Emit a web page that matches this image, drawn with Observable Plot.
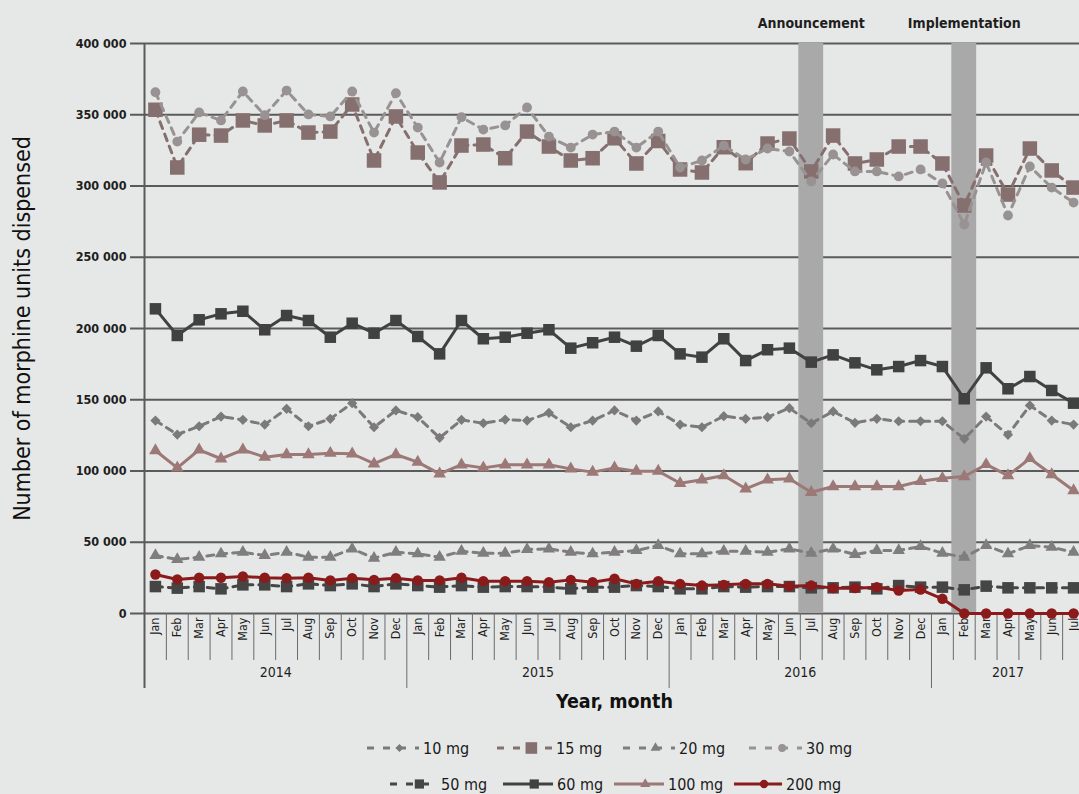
<!DOCTYPE html>
<html>
<head>
<meta charset="utf-8">
<script src="https://cdn.jsdelivr.net/npm/d3@7"></script>
<script src="https://cdn.jsdelivr.net/npm/@observablehq/plot@0.6"></script>
<style>
html, body { margin: 0; padding: 0; background: #e6e8e7; overflow: hidden; width: 1079px; height: 794px; }
#chart { position: absolute; left: 0; top: 0; }
#legend { position: absolute; left: 0; top: 0; width: 1079px; height: 794px; pointer-events: none;
  font-family: "Liberation Sans Narrow", "DejaVu Sans Condensed", "Roboto", sans-serif; font-size: 16px; color: #1a1a1a; }
.lg-item { position: absolute; display: flex; align-items: center; white-space: nowrap; }
.lg-item svg { display: block; }
</style>
</head>
<body>
<div id="chart"></div>
<div id="legend"></div>
<script>
// ---------- data ----------
const monthNames = ["Jan","Feb","Mar","Apr","May","Jun","Jul","Aug","Sep","Oct","Nov","Dec"];
const years = [2014, 2015, 2016, 2017];
const monthsPerYear = [12, 12, 12, 7];
const tickValues = [0, 50000, 100000, 150000, 200000, 250000, 300000, 350000, 400000];
const events = [
  {label: "Announcement", year: 2016, month: "Jul"},
  {label: "Implementation", year: 2017, month: "Feb"}
];
const seriesNames = ["10 mg","15 mg","20 mg","30 mg","50 mg","60 mg","100 mg","200 mg"];
const yTitle = "Number of morphine units dispensed";
const xTitle = "Year, month";

const s10 = [135400,125600,131400,138200,135900,132600,143600,131400,136600,147600,130700,142500,
  137800,123300,135900,133500,136100,135400,140800,130700,135400,142500,135400,141800,
  132600,130700,138500,136600,137800,144100,133500,141800,133800,136600,134900,134900,
  134900,122600,138200,125400,146000,135400,132600];
const s15 = [353500,313000,336000,335400,346000,342500,346000,337500,338200,357200,317900,348800,
  323500,302500,328400,329100,319500,338200,327700,317900,319500,333500,315800,331600,
  311600,309500,327200,316000,329800,333300,310200,335400,315800,318600,327700,327700,
  315800,286300,321400,294000,326300,310900,298900];
const s20 = [40700,37900,39500,41900,43000,40700,43000,39500,39500,45400,38800,43000,
  41900,39500,43700,42300,42300,44900,45400,43000,41900,43000,44200,47700,
  41900,41900,43700,43700,43000,45400,42300,45400,41400,44200,44200,47000,
  42300,39500,47700,41900,47700,46500,43000];
const s30 = [365800,331200,351600,346000,366300,349700,367000,350200,348800,366300,337500,365100,
  341000,316500,348300,339600,342500,355100,334700,327000,336100,338200,327000,338200,
  313000,317900,328400,318600,326300,324200,303200,322100,310200,310200,306700,311600,
  301800,273000,316500,279300,313700,298900,288400];
const s50 = [18900,17800,18900,17300,20100,20100,18900,20800,19600,20800,18900,20800,
  19600,18500,19600,18500,18900,18900,18500,17300,18500,18500,19600,18900,
  17300,17300,18900,18500,18900,18900,18000,18000,18500,17300,19600,18500,
  18500,16600,19200,18000,18000,18000,18000];
const s60 = [213800,195100,206100,210300,212100,199100,209100,205600,193900,203700,196700,205600,
  194400,182200,205600,192800,193900,196700,199100,186200,190000,193900,187600,195100,
  182200,179900,192800,177500,185100,186200,176400,181500,175900,171000,173300,177500,
  173300,150700,172400,157700,166300,156500,147600];
const s100 = [114400,102200,114900,108600,114900,109700,111600,111600,112500,112100,105100,111600,
  106200,98000,104400,102200,104400,104400,104400,101500,99200,102200,99900,99900,
  91400,93800,96800,87500,93800,94500,85100,89100,89100,89100,89100,92800,
  94900,96100,104600,96800,108800,97500,86300];
const s200 = [27400,23900,25100,25100,26000,25100,24800,25100,23200,24800,23600,24800,
  23200,23200,25100,22700,22700,22700,22000,23600,22000,24400,20800,22700,
  20800,19600,20100,20800,20800,19200,19600,17800,17800,18500,16100,16800,
  10300,0,0,0,0,0,0];

// ---------- derived tables ----------
const months = years.flatMap((y, k) => monthNames.slice(0, monthsPerYear[k]).map(m => ({year: y, name: m})));
months.forEach((d, i) => d.i = i);
const idxOf = (year, name) => months.findIndex(d => d.year === year && d.name === name);
const boundaries = months.map(d => ({x: d.i - 0.5, yearStart: d.name === "Jan"}));
const yearSpans = years.map(y => {
  const ms = months.filter(d => d.year === y);
  return {year: y, mid: (ms[0].i + ms[ms.length - 1].i) / 2};
});

const styles = {
  "10 mg":  {values: s10,  color: "#7b797a", dash: "7,6", symbol: "diamond2", r: 4.6},
  "15 mg":  {values: s15,  color: "#86706f", dash: "7,6", symbol: "square",   r: 8.2},
  "20 mg":  {values: s20,  color: "#7f7d7e", dash: "7,6", symbol: "triangle", r: 4.6},
  "30 mg":  {values: s30,  color: "#989292", dash: "7,6", symbol: "circle",   r: 4.9},
  "50 mg":  {values: s50,  color: "#454545", dash: "7,6", symbol: "square",   r: 6.5},
  "60 mg":  {values: s60,  color: "#414141", dash: null,  symbol: "square",   r: 6.5},
  "100 mg": {values: s100, color: "#9c7977", dash: null,  symbol: "triangle", r: 4.7},
  "200 mg": {values: s200, color: "#8b1a1b", dash: null,  symbol: "circle",   r: 5.2}
};

const fmt = d => d3.format(",")(d).replace(/,/g, " ");
const FONT = '"Liberation Sans Narrow", "DejaVu Sans Condensed", Roboto, sans-serif';

const seriesMarks = seriesNames.flatMap(name => {
  const st = styles[name];
  const rows = st.values.map((v, i) => ({i, v}));
  return [
    Plot.line(rows, {x: "i", y: "v", stroke: st.color, strokeWidth: 3,
      strokeDasharray: st.dash ?? undefined, strokeLinejoin: "round"}),
    Plot.dot(rows, {x: "i", y: "v", symbol: st.symbol, r: st.r, fill: st.color, stroke: "none"})
  ];
});

const chart = Plot.plot({
  width: 1084,
  height: 726,
  marginLeft: 144,
  marginRight: 0,
  marginTop: 43,
  marginBottom: 113,
  style: {background: "transparent", maxWidth: "none", fontFamily: FONT, overflow: "visible"},
  x: {type: "linear", domain: [-0.5, months.length - 0.5], axis: null},
  y: {domain: [0, 400000], axis: null},
  marks: [
    // gridlines with left tick stubs
    Plot.ruleY(tickValues, {y: d => d, stroke: "#5a5a5a", strokeWidth: 2, insetLeft: -14}),
    Plot.text(tickValues, {y: d => d, text: fmt, frameAnchor: "left", dx: -18, textAnchor: "end",
      fontSize: 12.5, fontWeight: "bold", fill: "#1e1e1e"}),
    // event bands
    Plot.rect(events, {x1: d => idxOf(d.year, d.month) - 0.5, x2: d => idxOf(d.year, d.month) + 0.5,
      y1: () => tickValues[0], y2: () => tickValues[tickValues.length - 1],
      fill: "#a9a9a9", insetLeft: -1.5, insetRight: -1.5}),
    Plot.text(events, {x: d => idxOf(d.year, d.month), text: "label", frameAnchor: "top", dy: -25,
      fontSize: 14, fontWeight: "bold", fill: "#1e1e1e"}),
    // left axis line
    Plot.ruleX(boundaries.filter((d, k) => k === 0), {x: "x", stroke: "#5a5a5a", strokeWidth: 2, insetBottom: -75}),
    // month separators & year separators below plot
    Plot.ruleX(boundaries.filter((d, k) => k > 0 && !d.yearStart), {x: "x", stroke: "#6a6a6a", strokeWidth: 1, insetTop: 570, insetBottom: -47}),
    Plot.ruleX(boundaries.filter((d, k) => k > 0 && d.yearStart), {x: "x", stroke: "#6a6a6a", strokeWidth: 1, insetTop: 570, insetBottom: -75}),
    // month labels
    Plot.text(months, {x: "i", text: "name", frameAnchor: "bottom", dy: 4, rotate: -90,
      textAnchor: "end", lineAnchor: "middle", fontSize: 12.5, fill: "#1e1e1e"}),
    // year labels
    Plot.text(yearSpans, {x: "mid", text: d => String(d.year), frameAnchor: "bottom", dy: 63,
      fontSize: 14, fill: "#1e1e1e"}),
    // axis titles
    Plot.text([xTitle], {frameAnchor: "bottom", dy: 94, fontSize: 19.5, fontWeight: "bold", fill: "#111"}),
    Plot.text([yTitle], {frameAnchor: "left", dx: -122, rotate: -90, textAnchor: "middle",
      lineAnchor: "middle", fontSize: 23, fill: "#111"}),
    ...seriesMarks
  ]
});
document.getElementById("chart").appendChild(chart);

// ---------- legend ----------
const legendPos = {
  "10 mg":  {left: 366, top: 748, w: 54},
  "15 mg":  {left: 496, top: 748, w: 57},
  "20 mg":  {left: 622, top: 748, w: 54},
  "30 mg":  {left: 748, top: 748, w: 55},
  "50 mg":  {left: 389, top: 784, w: 49},
  "60 mg":  {left: 502, top: 784, w: 52},
  "100 mg": {left: 613, top: 784, w: 52},
  "200 mg": {left: 733, top: 784, w: 50}
};
const symbolMap = {diamond2: d3.symbolDiamond2, square: d3.symbolSquare, triangle: d3.symbolTriangle, circle: d3.symbolCircle};
const legend = d3.select("#legend");
seriesNames.forEach(name => {
  const st = styles[name], p = legendPos[name];
  const item = legend.append("div").attr("class", "lg-item")
    .style("left", p.left + "px").style("top", (p.top - 9) + "px").style("height", "18px");
  const svg = item.append("svg").attr("width", p.w).attr("height", 18);
  svg.append("line").attr("x1", 1).attr("x2", p.w - 1).attr("y1", 9).attr("y2", 9)
    .attr("stroke", st.color).attr("stroke-width", 3)
    .attr("stroke-dasharray", st.dash ? "7,9" : null);
  const rr = st.r * 0.8;
  svg.append("path").attr("transform", `translate(${p.w * 0.62},9)`)
    .attr("d", d3.symbol(symbolMap[st.symbol], rr * rr * Math.PI)())
    .attr("fill", st.color);
  item.append("span").text(name).style("margin-left", "3px");
});
</script>
</body>
</html>
